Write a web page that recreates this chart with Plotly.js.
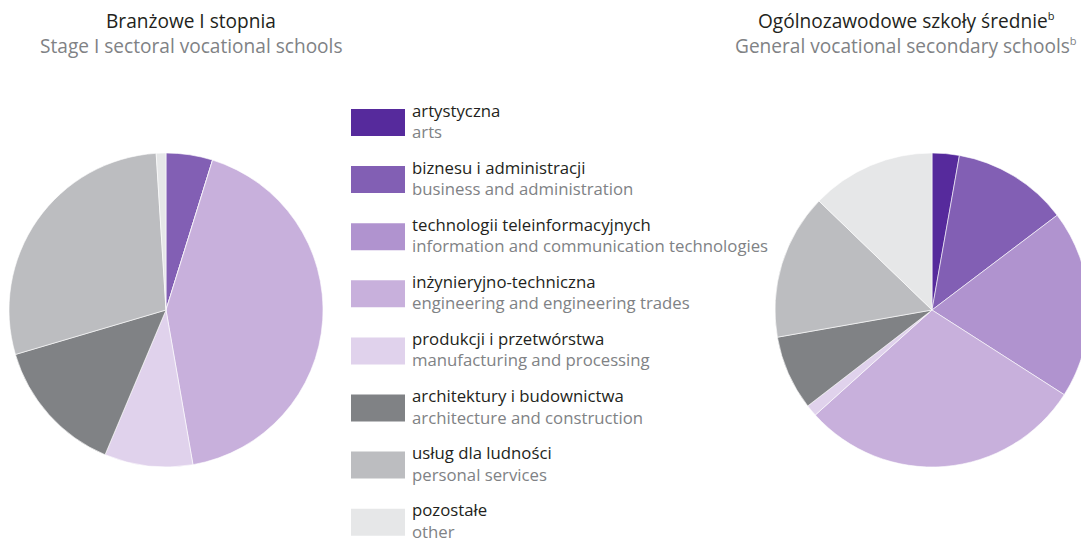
<!DOCTYPE html>
<html>
<head>
<meta charset="utf-8">
<script src="https://cdn.plot.ly/plotly-3.0.1.min.js"></script>
<style>
html,body{margin:0;padding:0;overflow:hidden;background:#fff;width:1081px;height:539px;}
#chart{width:1100px;height:539px;}
</style>
</head>
<body>
<div id="chart"></div>
<script>
// ---- data ----
const categoriesPL = ["artystyczna","biznesu i administracji","technologii teleinformacyjnych","inżynieryjno-techniczna","produkcji i przetwórstwa","architektury i budownictwa","usług dla ludności","pozostałe"];
const categoriesEN = ["arts","business and administration","information and communication technologies","engineering and engineering trades","manufacturing and processing","architecture and construction","personal services","other"];
const sectoralValues = [0, 4.8, 0, 42.5, 9.1, 14.1, 28.6, 1.0];
const generalValues  = [2.8, 11.9, 19.4, 29.3, 1.2, 7.7, 15.0, 12.8];
const titlePL = ["Branżowe I stopnia", "Ogólnozawodowe szkoły średnie<sup><span style=\"font-size:11px\">b</span></sup>"];
const titleEN = ["Stage I sectoral vocational schools", "General vocational secondary schools<sup><span style=\"font-size:11px\">b</span></sup>"];

// ---- styles ----
const colors = ["#562a9c","#825fb4","#b093cf","#c8b0dc","#e0d2ec","#808285","#bcbdc0","#e6e7e8"];
const W = 1100, H = 539;
const px = x => x / W;
const py = y => 1 - y / H;
const FONT = "Open Sans";
const LSIZE = 16.75, TSIZE = 19.1;

function pie(values, x0, x1) {
  return {
    type: "pie",
    values: values,
    labels: categoriesEN,
    sort: false,
    direction: "clockwise",
    rotation: 0,
    textinfo: "none",
    hoverinfo: "label+percent",
    showlegend: false,
    marker: {colors: colors, line: {color: "#ffffff", width: 0.6}},
    domain: {x: [px(x0), px(x1)], y: [py(467), py(153)]}
  };
}

const data = [
  pie(sectoralValues, 9, 323),
  pie(generalValues, 775, 1089)
];

const shapes = [];
const annotations = [];
const rowStep = 57.1;
categoriesPL.forEach((c, i) => {
  const top = 109 + rowStep * i;
  shapes.push({type: "rect", xref: "paper", yref: "paper",
    x0: px(351), x1: px(405), y0: py(top + 27), y1: py(top),
    fillcolor: colors[i], line: {width: 0}});
  annotations.push({xref: "paper", yref: "paper", x: px(410), y: py(top + 1), xanchor: "left", yanchor: "middle",
    text: c, showarrow: false, font: {family: FONT, size: LSIZE, color: "#231f20"}});
  annotations.push({xref: "paper", yref: "paper", x: px(410), y: py(top + 22.5), xanchor: "left", yanchor: "middle",
    text: categoriesEN[i], showarrow: false, font: {family: FONT, size: LSIZE, color: "#808285"}});
});

const titleX = [191, 906];
titlePL.forEach((t, i) => {
  annotations.push({xref: "paper", yref: "paper", x: px(titleX[i]), y: py(21), xanchor: "center", yanchor: "middle",
    text: t, showarrow: false, font: {family: FONT, size: TSIZE, color: "#231f20"}});
  annotations.push({xref: "paper", yref: "paper", x: px(titleX[i]), y: py(46), xanchor: "center", yanchor: "middle",
    text: titleEN[i], showarrow: false, font: {family: FONT, size: TSIZE, color: "#808285"}});
});

const layout = {
  width: W, height: H,
  margin: {l: 0, r: 0, t: 0, b: 0},
  paper_bgcolor: "#ffffff",
  showlegend: false,
  shapes: shapes,
  annotations: annotations
};

Plotly.newPlot("chart", data, layout, {displayModeBar: false, staticPlot: true});
</script>
</body>
</html>
